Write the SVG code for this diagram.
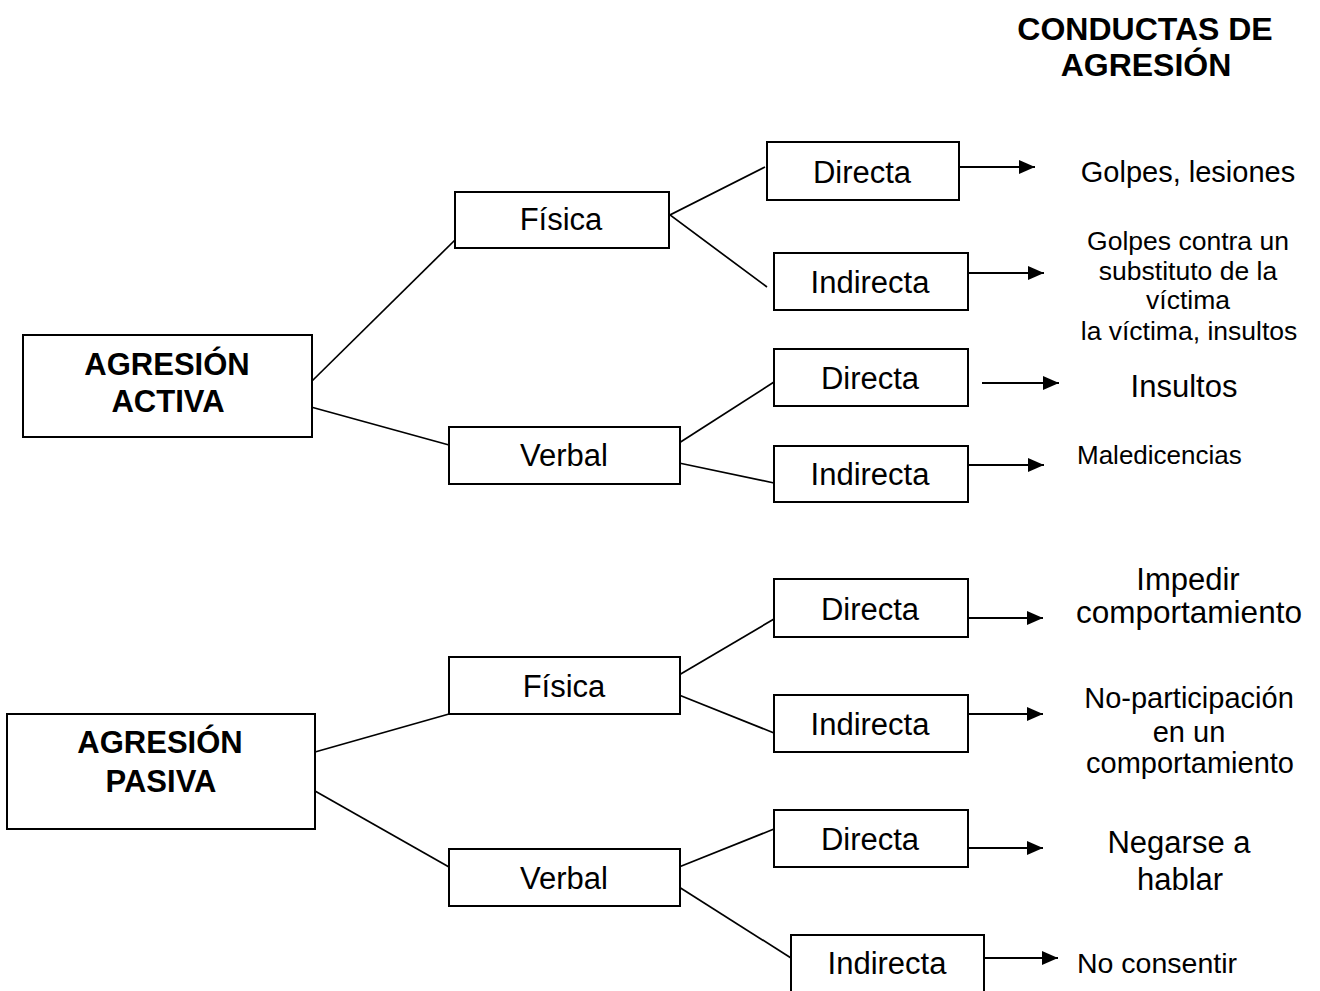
<svg xmlns="http://www.w3.org/2000/svg" width="1320" height="991" viewBox="0 0 1320 991">
<defs>
<marker id="ah" markerUnits="userSpaceOnUse" markerWidth="18" markerHeight="16" refX="16" refY="7" orient="auto">
<path d="M0,0 L16,7 L0,14 Z" fill="#000"/>
</marker>
</defs>
<style>
.box{fill:#fff;stroke:#000;stroke-width:2}
.t{font-family:"Liberation Sans",Arial,sans-serif;font-size:31px;fill:#000;text-anchor:middle}
.b{font-weight:bold}
.r{font-family:"Liberation Sans",Arial,sans-serif;fill:#000;text-anchor:middle}
.s{text-anchor:start}
.l{stroke:#000;stroke-width:1.7;fill:none}
.a{stroke:#000;stroke-width:1.8;fill:none;marker-end:url(#ah)}
</style>
<rect width="1320" height="991" fill="#fff"/>

<g id="title">
<text class="r b" font-size="32" x="1145" y="40">CONDUCTAS DE</text>
<text class="r b" font-size="32" x="1146" y="76">AGRESIÓN</text>
</g>

<g id="connectors">
<line class="l" x1="311" y1="382" x2="455" y2="240"/>
<line class="l" x1="311" y1="407" x2="449" y2="445"/>
<polyline class="l" points="765,167 670,215 767,287"/>
<line class="l" x1="679" y1="443" x2="774" y2="382"/>
<line class="l" x1="679" y1="463" x2="774" y2="483"/>
<line class="l" x1="315" y1="752" x2="449" y2="714"/>
<line class="l" x1="315" y1="791" x2="449" y2="867"/>
<line class="l" x1="679" y1="675" x2="774" y2="619"/>
<line class="l" x1="679" y1="695" x2="774" y2="733"/>
<line class="l" x1="679" y1="867" x2="774" y2="829"/>
<line class="l" x1="679" y1="887" x2="791" y2="958"/>
<line class="a" x1="959" y1="167" x2="1035" y2="167"/>
<line class="a" x1="968" y1="273" x2="1044" y2="273"/>
<line class="a" x1="982" y1="383" x2="1059" y2="383"/>
<line class="a" x1="968" y1="465" x2="1044" y2="465"/>
<line class="a" x1="967" y1="618" x2="1043" y2="618"/>
<line class="a" x1="967" y1="714" x2="1043" y2="714"/>
<line class="a" x1="967" y1="848" x2="1043" y2="848"/>
<line class="a" x1="983" y1="958" x2="1058" y2="958"/>
</g>

<g id="agresion-activa">
<rect class="box" x="23" y="335" width="289" height="102"/>
<text class="t b" x="167" y="375" font-size="32">AGRESIÓN</text>
<text class="t b" x="168" y="412" font-size="32">ACTIVA</text>
</g>
<g id="fisica-activa">
<rect class="box" x="455" y="192" width="214" height="56"/>
<text class="t" x="561" y="230">Física</text>
</g>
<g id="verbal-activa">
<rect class="box" x="449" y="427" width="231" height="57"/>
<text class="t" x="564" y="466">Verbal</text>
</g>
<g id="directa-1">
<rect class="box" x="767" y="142" width="192" height="58"/>
<text class="t" x="862" y="183">Directa</text>
</g>
<g id="indirecta-1">
<rect class="box" x="774" y="253" width="194" height="57"/>
<text class="t" x="870" y="293">Indirecta</text>
</g>
<g id="directa-2">
<rect class="box" x="774" y="349" width="194" height="57"/>
<text class="t" x="870" y="389">Directa</text>
</g>
<g id="indirecta-2">
<rect class="box" x="774" y="446" width="194" height="56"/>
<text class="t" x="870" y="485">Indirecta</text>
</g>

<g id="agresion-pasiva">
<rect class="box" x="7" y="714" width="308" height="115"/>
<text class="t b" x="160" y="753" font-size="32">AGRESIÓN</text>
<text class="t b" x="161" y="792" font-size="32">PASIVA</text>
</g>
<g id="fisica-pasiva">
<rect class="box" x="449" y="657" width="231" height="57"/>
<text class="t" x="564" y="697">Física</text>
</g>
<g id="verbal-pasiva">
<rect class="box" x="449" y="849" width="231" height="57"/>
<text class="t" x="564" y="889">Verbal</text>
</g>
<g id="directa-3">
<rect class="box" x="774" y="579" width="194" height="58"/>
<text class="t" x="870" y="620">Directa</text>
</g>
<g id="indirecta-3">
<rect class="box" x="774" y="695" width="194" height="57"/>
<text class="t" x="870" y="735">Indirecta</text>
</g>
<g id="directa-4">
<rect class="box" x="774" y="810" width="194" height="57"/>
<text class="t" x="870" y="850">Directa</text>
</g>
<g id="indirecta-4">
<rect class="box" x="791" y="935" width="193" height="70"/>
<text class="t" x="887" y="974">Indirecta</text>
</g>

<g id="resultados">
<text class="r" font-size="29" x="1188" y="182">Golpes, lesiones</text>
<text class="r" font-size="26.5" x="1188" y="250">Golpes contra un</text>
<text class="r" font-size="26.5" x="1188" y="280">substituto de la</text>
<text class="r" font-size="26.5" x="1188" y="309">víctima</text>
<text class="r" font-size="26.5" x="1189" y="340">la víctima, insultos</text>
<text class="r" font-size="31" x="1184" y="397">Insultos</text>
<text class="r s" font-size="26" x="1077" y="464">Maledicencias</text>
<text class="r" font-size="31" x="1188" y="590">Impedir</text>
<text class="r" font-size="31.5" x="1189" y="623">comportamiento</text>
<text class="r" font-size="29" x="1189" y="708">No-participación</text>
<text class="r" font-size="29" x="1189" y="742">en un</text>
<text class="r" font-size="29" x="1190" y="773">comportamiento</text>
<text class="r" font-size="31" x="1179" y="853">Negarse a</text>
<text class="r" font-size="31" x="1180" y="890">hablar</text>
<text class="r s" font-size="28.5" x="1077" y="973">No consentir</text>
</g>
</svg>
